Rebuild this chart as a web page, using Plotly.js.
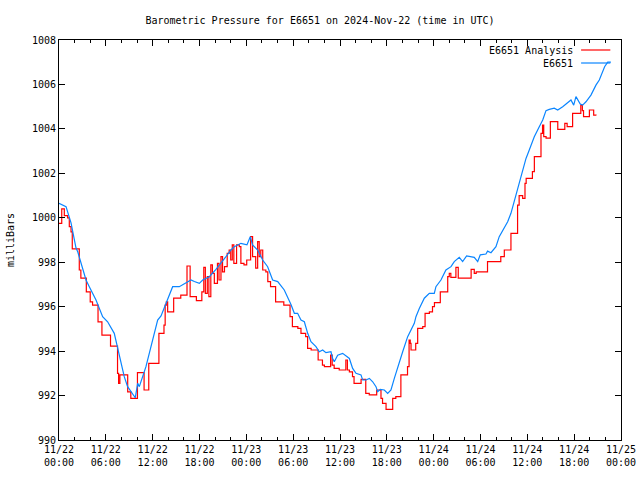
<!DOCTYPE html>
<html>
<head>
<meta charset="utf-8">
<script src="https://cdn.plot.ly/plotly-3.0.1.min.js"></script>
<style>html,body{margin:0;padding:0;background:#fff;}#chart{width:640px;height:480px;}</style>
</head>
<body>
<div id="chart"></div>
<script>
// Hours since 2024-11-22 00:00 UTC
const startDate = Date.UTC(2024, 10, 22, 0, 0, 0);

const obsName = "E6651";
const obsHours = [0,0.5,0.9,1.54,2.18,2.4,3.46,3.88,4.74,5.59,
  6.23,7.08,7.72,8.36,8.79,9.77,10.08,10.29,11.14,11.79,
  12.64,13.07,13.71,13.92,14.56,15.41,16.27,16.91,17.34,17.98,
  18.41,19.26,20.11,20.75,21.39,22.03,22.46,23.31,24.08,24.5,
  24.8,25.45,26.09,26.73,27.37,28.02,28.86,29.72,30.15,30.57,
  31.0,31.43,31.86,32.28,32.92,33.35,33.78,34.2,34.84,35.06,
  35.27,35.7,36.34,37.2,37.62,38.05,38.69,38.9,39.33,39.76,
  40.19,40.61,40.83,41.16,41.68,42.11,42.53,42.96,43.39,44.03,
  44.67,45.52,45.73,46.16,46.8,47.44,48.08,48.29,48.93,49.57,
  50.22,50.64,51.28,51.71,52.22,53.2,53.64,53.97,54.7,54.91,
  55.34,55.98,56.4,56.84,57.48,57.9,58.33,58.97,59.4,59.83,
  60.25,60.89,61.53,61.97,62.39,62.81,63.45,63.89,64.53,65.38,
  65.59,65.94,66.23,66.78,67.09,67.51,68.15,68.79,69.22,69.9,
  70.3,70.7];
const obsVals = [1000.65,1000.55,1000.5,999.77,998.64,998.47,997.2,996.9,996.3,995.55,
  995.32,994.8,993.75,992.85,992.4,991.9,992.55,992.4,993.3,994.2,
  995.4,995.58,996.15,996.38,996.9,996.9,997.08,997.2,997.13,997.05,
  997.2,997.35,997.68,997.95,998.25,998.55,998.7,998.85,998.78,999.15,
  998.78,998.55,998.1,997.8,997.2,997.13,996.75,996.1,995.7,995.7,
  995.4,995.32,994.8,994.42,994.2,993.97,994.05,993.93,993.97,993.67,
  993.52,993.82,993.9,993.67,993.22,993.0,992.93,992.7,992.7,992.77,
  992.62,992.4,992.17,992.28,992.25,992.1,992.25,992.77,993.3,993.97,
  994.65,995.25,995.55,995.92,996.38,996.6,996.6,996.9,997.2,997.65,
  997.8,998.03,998.22,998.03,998.28,998.22,998.03,998.33,998.37,998.5,
  998.43,998.7,999.15,999.45,999.82,1000.2,1000.75,1001.6,1002.22,1002.67,
  1003.05,1003.65,1004.1,1004.4,1004.82,1004.88,1004.93,1004.85,1005.0,1005.22,
  1005.3,1005.07,1005.45,1005.12,1005.07,1005.22,1005.52,1005.97,1006.2,1006.8,
  1007.0,1007.0];

const anaName = "E6651 Analysis";
const anaHours = [0.0,0.35,0.68,1.1,1.32,1.54,1.7,2.6,2.8,3.5,
  4.0,4.3,5.0,5.5,6.6,7.5,7.64,7.8,8.8,9.2,
  10.05,10.9,11.5,12.8,13.45,13.6,13.75,13.92,14.69,15.6,
  16.4,16.8,17.6,18.3,18.55,18.75,19.0,19.2,19.45,19.65,
  19.9,20.3,20.5,20.75,20.95,21.2,21.55,21.8,22.0,22.2,
  22.4,22.75,23.1,23.3,23.7,24.05,24.55,24.8,25.2,25.45,
  25.65,25.85,26.1,26.5,26.75,27.1,27.75,28.8,29.6,29.9,
  30.6,31.0,31.6,31.85,32.3,33.2,33.75,34.0,34.8,35.0,
  35.25,35.9,36.75,36.95,37.2,37.6,37.8,38.7,39.3,39.75,
  40.7,41.25,41.45,41.9,42.75,43.15,43.8,44.65,44.85,45.0,
  45.1,45.7,45.95,46.6,46.9,47.45,47.85,48.1,48.85,49.8,
  50.0,50.2,50.85,51.15,52.8,53.2,53.45,54.9,56.6,57.05,
  57.9,58.75,58.95,59.4,59.7,59.85,60.65,60.9,61.75,61.95,
  62.1,62.4,62.95,63.9,64.8,65.1,65.8,66.85,67.05,67.2,
  67.95,68.5,68.8];
const anaVals = [999.75,1000.4,1000.1,1000.0,999.6,999.37,998.6,997.65,997.28,996.67,
  996.22,996.07,995.32,994.72,994.22,993.0,992.55,992.93,992.17,991.87,
  993.03,992.25,993.45,994.8,995.17,996.07,996.22,995.77,996.38,996.52,
  997.83,996.45,996.27,996.67,997.77,996.6,997.35,996.45,997.88,997.5,
  997.05,997.95,997.2,998.25,997.57,997.8,998.4,998.55,998.1,998.78,
  997.95,998.78,998.7,997.95,997.88,998.1,999.15,998.25,997.73,998.93,
  998.25,998.55,997.65,997.57,997.13,996.9,996.22,996.07,995.55,995.1,
  995.02,994.8,994.65,994.12,994.05,993.6,993.37,993.3,993.82,993.37,
  993.22,993.15,993.6,993.15,993.07,992.85,992.55,992.73,992.1,992.03,
  992.25,991.87,991.65,991.38,991.87,991.95,992.93,993.3,994.5,994.35,
  994.05,994.35,995.02,995.1,995.7,995.77,996.0,996.18,996.67,997.35,
  997.5,997.32,997.77,997.28,997.68,997.5,997.57,998.03,998.25,998.55,
  999.3,1000.57,1001.0,1000.87,1001.55,1001.77,1002.08,1002.75,1003.8,1004.17,
  1003.65,1003.58,1004.33,1003.98,1004.25,1004.1,1004.7,1005.07,1004.82,1004.55,
  1004.85,1004.62,1004.6];

const titleText = "Barometric Pressure for E6651 on 2024-Nov-22 (time in UTC)";
const yTitle = "milliBars";
const xStart = "2024-11-22 00:00";
const xEnd = "2024-11-25 00:00";

function toDate(h) {
  return new Date(startDate + h * 3600000).toISOString().slice(0, 19).replace('T', ' ');
}

const FONT = "DejaVu Sans Mono, Liberation Mono, monospace";
const RED = "#ff0000";
const BLUE = "#0a85ff";

const traces = [
  {
    x: anaHours.map(toDate), y: anaVals, name: anaName, type: 'scatter', mode: 'lines',
    line: {color: RED, width: 1.2, shape: 'hv'}
  },
  {
    x: obsHours.map(toDate), y: obsVals, name: obsName, type: 'scatter', mode: 'lines',
    line: {color: BLUE, width: 1.2}
  }
];

const layout = {
  width: 640, height: 480,
  margin: {l: 58.5, r: 19, t: 40, b: 40, pad: 0},
  paper_bgcolor: '#fff', plot_bgcolor: '#fff',
  font: {family: FONT, size: 10, color: '#000'},
  showlegend: false,
  title: {text: titleText, font: {family: FONT, size: 10, color: '#000'},
          x: 0.5, xanchor: 'center', y: 1 - 20 / 480, yanchor: 'middle', yref: 'container'},
  xaxis: {
    type: 'date', range: [xStart, xEnd],
    dtick: 6 * 3600000, tick0: xStart,
    tickformat: '%m/%d<br>%H:%M',
    ticks: 'inside', ticklen: 6, tickcolor: '#000', tickwidth: 1,
    minor: {dtick: 2 * 3600000, ticks: 'inside', ticklen: 3, tickcolor: '#000', showgrid: false},
    showline: true, linecolor: '#000', linewidth: 1, mirror: 'allticks',
    showgrid: false, zeroline: false,
    tickfont: {family: FONT, size: 10, color: '#000'}
  },
  yaxis: {
    range: [990, 1008], dtick: 2, tick0: 990,
    ticks: 'inside', ticklen: 6, tickcolor: '#000', tickwidth: 1,
    showline: true, linecolor: '#000', linewidth: 1, mirror: 'allticks',
    showgrid: false, zeroline: false,
    tickfont: {family: FONT, size: 10, color: '#000'},
    title: {text: yTitle, font: {family: FONT, size: 10, color: '#000'}, standoff: 15}
  },
  annotations: [
    {xref: 'paper', yref: 'paper', x: 0.918, y: 0.975, xanchor: 'right', yanchor: 'middle',
     text: anaName, showarrow: false, font: {family: FONT, size: 10, color: '#000'}},
    {xref: 'paper', yref: 'paper', x: 0.918, y: 0.9425, xanchor: 'right', yanchor: 'middle',
     text: obsName, showarrow: false, font: {family: FONT, size: 10, color: '#000'}}
  ],
  shapes: [
    {type: 'line', xref: 'paper', yref: 'paper', x0: 0.929, x1: 0.981, y0: 0.975, y1: 0.975,
     line: {color: RED, width: 1.2}},
    {type: 'line', xref: 'paper', yref: 'paper', x0: 0.929, x1: 0.981, y0: 0.9425, y1: 0.9425,
     line: {color: BLUE, width: 1.2}}
  ]
};

Plotly.newPlot('chart', traces, layout, {staticPlot: true, displayModeBar: false});
</script>
</body>
</html>
